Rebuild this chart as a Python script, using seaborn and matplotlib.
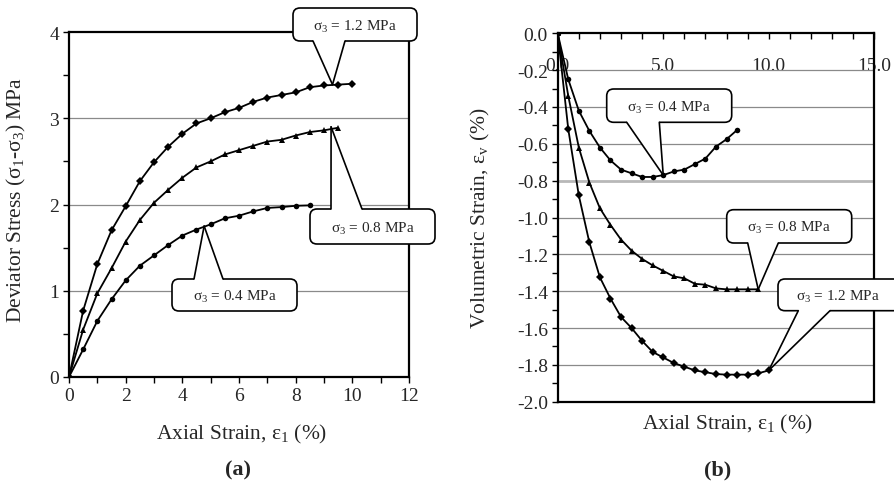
import numpy as np
import pandas as pd
import matplotlib
matplotlib.use("Agg")
import matplotlib.pyplot as plt
import seaborn as sns
from matplotlib.patches import FancyBboxPatch, Polygon
from matplotlib.lines import Line2D
from matplotlib.transforms import Affine2D
from matplotlib.ticker import MultipleLocator, FormatStrFormatter

# ---------------- data ----------------
series_names = ["1.2", "0.8", "0.4"]

# (a) deviator stress vs axial strain
strain_a_12 = [0, 0.5, 1, 1.5, 2, 2.5, 3, 3.5, 4, 4.5, 5, 5.5, 6, 6.5, 7, 7.5, 8, 8.5, 9, 9.5, 10]
stress_12 = [0, 0.77, 1.31, 1.70, 1.98, 2.27, 2.49, 2.67, 2.82, 2.94, 3.00, 3.07, 3.12, 3.19,
             3.24, 3.27, 3.30, 3.36, 3.38, 3.39, 3.40]
strain_a_08 = [0, 0.5, 1, 1.5, 2, 2.5, 3, 3.5, 4, 4.5, 5, 5.5, 6, 6.5, 7, 7.5, 8, 8.5, 9, 9.5]
stress_08 = [0, 0.55, 0.97, 1.26, 1.57, 1.82, 2.02, 2.17, 2.31, 2.43, 2.50, 2.58, 2.63, 2.68,
             2.73, 2.75, 2.80, 2.84, 2.86, 2.89]
strain_a_04 = [0, 0.5, 1, 1.5, 2, 2.5, 3, 3.5, 4, 4.5, 5, 5.5, 6, 6.5, 7, 7.5, 8, 8.5]
stress_04 = [0, 0.32, 0.65, 0.90, 1.12, 1.29, 1.41, 1.53, 1.64, 1.71, 1.77, 1.84, 1.87, 1.92,
             1.96, 1.97, 1.985, 1.99]

# (b) volumetric strain vs axial strain
strain_b_12 = [0, 0.5, 1, 1.5, 2, 2.5, 3, 3.5, 4, 4.5, 5, 5.5, 6, 6.5, 7, 7.5, 8, 8.5, 9, 9.5, 10]
vol_12 = [0, -0.52, -0.88, -1.135, -1.325, -1.44, -1.54, -1.60, -1.67, -1.73, -1.76, -1.79,
          -1.81, -1.83, -1.84, -1.85, -1.853, -1.853, -1.853, -1.846, -1.83]
strain_b_08 = [0, 0.5, 1, 1.5, 2, 2.5, 3, 3.5, 4, 4.5, 5, 5.5, 6, 6.5, 7, 7.5, 8, 8.5, 9, 9.5]
vol_08 = [0, -0.34, -0.62, -0.81, -0.95, -1.04, -1.12, -1.18, -1.225, -1.26, -1.29, -1.32,
          -1.33, -1.36, -1.365, -1.385, -1.39, -1.39, -1.39, -1.39]
strain_b_04 = [0, 0.5, 1, 1.5, 2, 2.5, 3, 3.5, 4, 4.5, 5, 5.5, 6, 6.5, 7, 7.5, 8, 8.5]
vol_04 = [0, -0.25, -0.42, -0.53, -0.62, -0.69, -0.74, -0.76, -0.78, -0.78, -0.77, -0.75,
          -0.74, -0.71, -0.68, -0.615, -0.575, -0.525]

callout_labels = ["σ$_3$ = 1.2 MPa", "σ$_3$ = 0.8 MPa", "σ$_3$ = 0.4 MPa"]

# ---------------- style ----------------
sns.set_theme(style="white")
plt.rcParams["font.family"] = ["Liberation Serif", "DejaVu Serif"]
plt.rcParams["mathtext.fontset"] = "custom"
plt.rcParams["mathtext.rm"] = "Liberation Serif"
plt.rcParams["mathtext.it"] = "Liberation Serif:italic"
plt.rcParams["mathtext.default"] = "regular"

W, H = 895, 485
fig = plt.figure(figsize=(W / 100, H / 100), dpi=100)
fig.patch.set_facecolor("white")

def frac_ax(x0, y0, x1, y1):
    return [x0 / W, 1 - y1 / H, (x1 - x0) / W, (y1 - y0) / H]

axA = fig.add_axes(frac_ax(69, 33, 409, 378))
axB = fig.add_axes(frac_ax(557.7, 34.3, 874.3, 402.7))

def make_df(xs, ys):
    rows = []
    for name, x, y in zip(series_names, xs, ys):
        rows.append(pd.DataFrame({"strain": x, "val": y, "s": name}))
    return pd.concat(rows, ignore_index=True)

dfA = make_df([strain_a_12, strain_a_08, strain_a_04], [stress_12, stress_08, stress_04])
dfB = make_df([strain_b_12, strain_b_08, strain_b_04], [vol_12, vol_08, vol_04])

marker_map = {"1.2": "D", "0.8": "^", "0.4": "o"}
pal = {k: "black" for k in series_names}

for ax, df in [(axA, dfA), (axB, dfB)]:
    sns.lineplot(data=df, x="strain", y="val", hue="s", style="s", markers=marker_map,
                 dashes=False, palette=pal, legend=False, sort=False, ax=ax,
                 linewidth=1.3, markersize=4, markeredgewidth=0, zorder=3)
    for sp in ax.spines.values():
        sp.set_color("black")
        sp.set_linewidth(1.6)
        sp.set_visible(True)
    ax.set_facecolor("white")

TICK_FS = 14
LABEL_FS = 15.5

# ---- axis A ----
axA.set_xlim(0, 12)
axA.set_ylim(0, 4)
axA.xaxis.set_major_locator(MultipleLocator(2))
axA.xaxis.set_minor_locator(MultipleLocator(1))
axA.yaxis.set_major_locator(MultipleLocator(1))
axA.yaxis.set_minor_locator(MultipleLocator(0.5))
axA.tick_params(which="both", direction="out", length=4, width=1, color="black",
                bottom=True, left=True, top=False, right=False)
axA.tick_params(which="major", labelsize=TICK_FS, pad=3)
for yv in [1, 2, 3]:
    axA.axhline(yv, color="#8a8a8a", lw=0.9, zorder=1)
axA.set_xlabel("Axial Strain, ε$_1$ (%)", fontsize=LABEL_FS)
axA.set_ylabel("Deviator Stress (σ$_1$-σ$_3$) MPa", fontsize=LABEL_FS)
axA.xaxis.set_label_coords(0.509, -0.130)
axA.yaxis.set_label_coords(-0.121, 0.516)

# ---- axis B ----
axB.set_xlim(0, 15)
axB.set_ylim(-2.0, 0.0)
axB.xaxis.tick_top()
axB.xaxis.set_major_locator(MultipleLocator(5))
axB.xaxis.set_minor_locator(MultipleLocator(1))
axB.xaxis.set_major_formatter(FormatStrFormatter("%.1f"))
axB.yaxis.set_major_locator(MultipleLocator(0.2))
axB.yaxis.set_minor_locator(MultipleLocator(0.1))
axB.yaxis.set_major_formatter(FormatStrFormatter("%.1f"))
axB.tick_params(axis="x", which="both", direction="in", length=4, width=1, color="black",
                top=True, bottom=False, labeltop=True, labelbottom=False)
axB.tick_params(axis="x", which="major", labelsize=TICK_FS, pad=-29)
axB.tick_params(axis="y", which="both", direction="out", length=4, width=1, color="black",
                left=True, right=False)
axB.tick_params(axis="y", which="major", labelsize=TICK_FS, pad=3)
for yv in [-0.2, -0.4, -0.6, -1.0, -1.2, -1.4, -1.6, -1.8]:
    axB.axhline(yv, color="#8a8a8a", lw=0.9, zorder=1)
axB.axhline(-0.8, color="#b8b8b8", lw=2.0, zorder=1)
axB.set_xlabel("Axial Strain, ε$_1$ (%)", fontsize=LABEL_FS)
axB.set_ylabel("Volumetric Strain, ε$_v$ (%)", fontsize=LABEL_FS)
axB.xaxis.set_label_position("bottom")
axB.xaxis.set_label_coords(0.538, -0.028)
axB.yaxis.set_label_coords(-0.2075, 0.501)

# ---- callouts (figure pixel coordinates, top-left origin) ----
pix = Affine2D().scale(1.0 / W, -1.0 / H).translate(0, 1) + fig.transFigure

def callout(ax, tip, box, base, text, text_x=None):
    x0, y0, x1, y1 = box
    xa, xb, yb = base
    td = ax.transData.transform(tip)
    tx, ty = td[0], H - td[1]
    bx = FancyBboxPatch((x0, y0), x1 - x0, y1 - y0,
                        boxstyle="round,pad=0,rounding_size=7",
                        facecolor="white", edgecolor="black", lw=1.2,
                        transform=pix, zorder=10, clip_on=False)
    fig.add_artist(bx)
    inward = 3 if yb >= (y0 + y1) / 2 else -3
    poly = Polygon([(xa, yb - inward), (xa, yb), (tx, ty), (xb, yb), (xb, yb - inward)],
                   closed=True, facecolor="white", edgecolor="none",
                   transform=pix, zorder=11, clip_on=False)
    fig.add_artist(poly)
    for xx in (xa, xb):
        fig.add_artist(Line2D([xx, tx], [yb, ty], color="black", lw=1.2,
                              transform=pix, zorder=12, clip_on=False))
    cx = (x0 + x1) / 2 if text_x is None else text_x
    fig.text(cx, (y0 + y1) / 2 + 1, text,
             transform=pix, ha="center", va="center", fontsize=11, zorder=13)

# panel (a)
callout(axA, (9.3, 3.39), (293, 9, 417, 42), (313, 345, 42), callout_labels[0])
callout(axA, (9.25, 2.9), (310, 210, 435, 245), (331, 362, 210), callout_labels[1])
callout(axA, (4.77, 1.75), (172, 280, 297, 312), (194, 223, 280), callout_labels[2])
# panel (b)
callout(axB, (5.0, -0.77), (606.7, 90, 731.7, 123.3), (626.7, 659.3, 123.3), callout_labels[2])
callout(axB, (9.5, -1.39), (726.7, 210.7, 851.7, 244), (747.7, 778.3, 244), callout_labels[1])
callout(axB, (10.0, -1.83), (778, 280, 912, 311.7), (798.3, 830, 311.7), callout_labels[0],
        text_x=838)

fig.text(238 / W, 1 - 470 / H, "(a)", ha="center", va="center", fontsize=16, fontweight="bold")
fig.text(717.5 / W, 1 - 470 / H, "(b)", ha="center", va="center", fontsize=16, fontweight="bold")

fig.savefig("out.png", dpi=100)
